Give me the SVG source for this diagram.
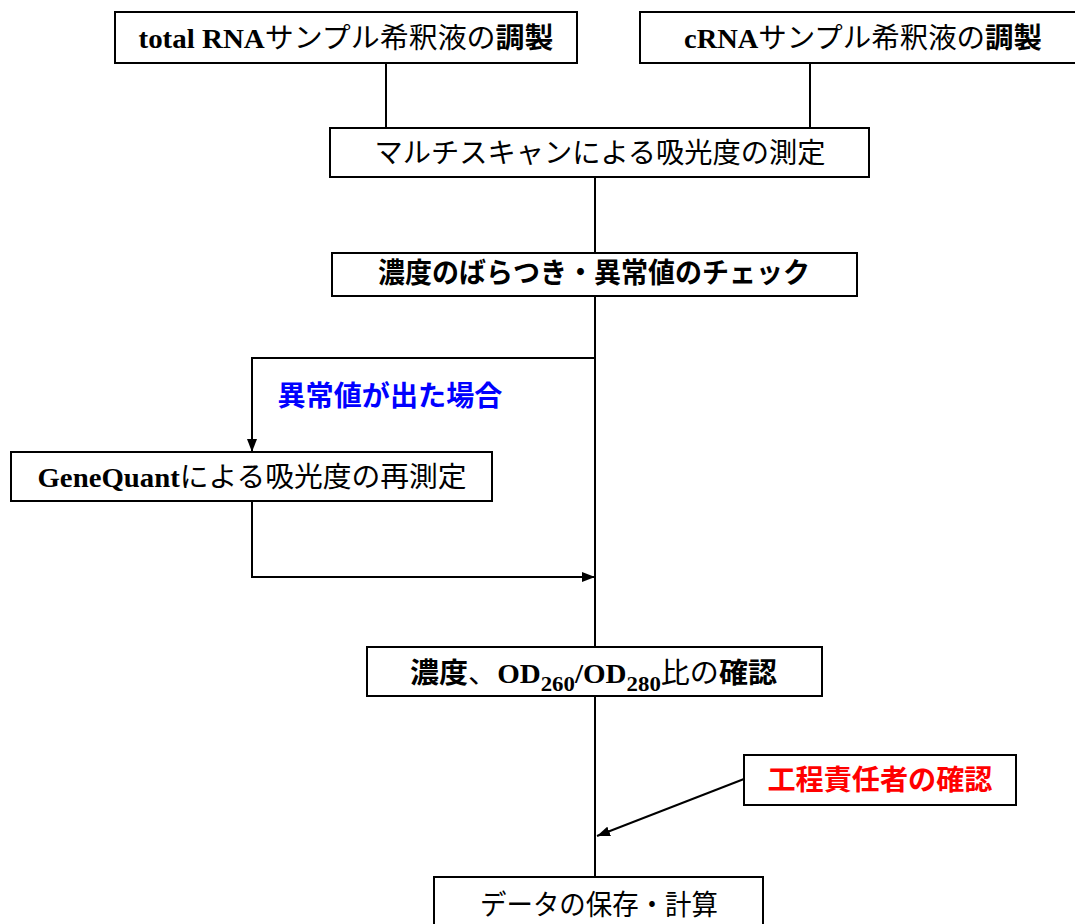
<svg xmlns="http://www.w3.org/2000/svg" width="1075" height="924" viewBox="0 0 1075 924">
<style>
.box{fill:#fff;stroke:#000;stroke-width:2}
.t{font-family:"Liberation Serif","Noto Sans CJK JP",serif;font-size:28px;fill:#000;text-anchor:middle}
.b{font-weight:bold}
.ln{fill:none;stroke:#000;stroke-width:2}
.blue{fill:#0000ff;font-weight:bold}
.red{fill:#ff0000;font-weight:bold}
</style>
<defs>
<marker id="ah" viewBox="0 0 13 10" refX="13" refY="5" markerWidth="13" markerHeight="10" markerUnits="userSpaceOnUse" orient="auto">
<path d="M0,0 L13,5 L0,10 Z" fill="#000"/>
</marker>
</defs>
<rect width="1075" height="924" fill="#fff"/>
<g id="connectors">
<path class="ln" d="M386,63 V128"/>
<path class="ln" d="M810,63 V128"/>
<path class="ln" d="M595,177 V253"/>
<path class="ln" d="M595,296 V877"/>
<path class="ln" d="M595,358 H252 V452" marker-end="url(#ah)"/>
<path class="ln" d="M252,501 V577 H595" marker-end="url(#ah)"/>
<path class="ln" d="M744,779 L597,836" marker-end="url(#ah)"/>
</g>
<g id="n1">
<rect class="box" x="115" y="12" width="462" height="51"/>
<text class="t" x="346" y="48" textLength="415" lengthAdjust="spacingAndGlyphs"><tspan class="b">total RNA</tspan>サンプル希釈液の<tspan class="b">調製</tspan></text>
</g>
<g id="n2">
<rect class="box" x="640" y="12" width="440" height="51"/>
<text class="t" x="863" y="48" textLength="358" lengthAdjust="spacingAndGlyphs"><tspan class="b">cRNA</tspan>サンプル希釈液の<tspan class="b">調製</tspan></text>
</g>
<g id="n3">
<rect class="box" x="330" y="128" width="539" height="49"/>
<text class="t" x="600" y="163" textLength="451" lengthAdjust="spacingAndGlyphs">マルチスキャンによる吸光度の測定</text>
</g>
<g id="n4">
<rect class="box" x="332" y="253" width="525" height="43"/>
<text class="t b" x="594" y="283" textLength="432" lengthAdjust="spacingAndGlyphs">濃度のばらつき・異常値のチェック</text>
</g>
<g id="lbl">
<text class="t blue" x="390" y="406" textLength="225" lengthAdjust="spacingAndGlyphs">異常値が出た場合</text>
</g>
<g id="n5">
<rect class="box" x="11" y="452" width="481" height="49"/>
<text class="t" x="252" y="487" textLength="429" lengthAdjust="spacingAndGlyphs"><tspan class="b">GeneQuant</tspan>による吸光度の再測定</text>
</g>
<g id="n6">
<rect class="box" x="367" y="647" width="455" height="49"/>
<text class="t" x="410" y="683" style="text-anchor:start" textLength="367" lengthAdjust="spacingAndGlyphs"><tspan class="b">濃度</tspan>、<tspan class="b">OD</tspan><tspan class="b" font-size="22" dy="8">260</tspan><tspan class="b" dy="-8">/OD</tspan><tspan class="b" font-size="22" dy="8">280</tspan><tspan dy="-8">比の</tspan><tspan class="b">確認</tspan></text>
</g>
<g id="n7">
<rect class="box" x="744" y="755" width="272" height="50"/>
<text class="t red" x="880" y="790" textLength="225" lengthAdjust="spacingAndGlyphs">工程責任者の確認</text>
</g>
<g id="n8">
<rect class="box" x="434" y="877" width="329" height="60"/>
<text class="t" x="599" y="915" textLength="238" lengthAdjust="spacingAndGlyphs">データの保存・計算</text>
</g>
</svg>
